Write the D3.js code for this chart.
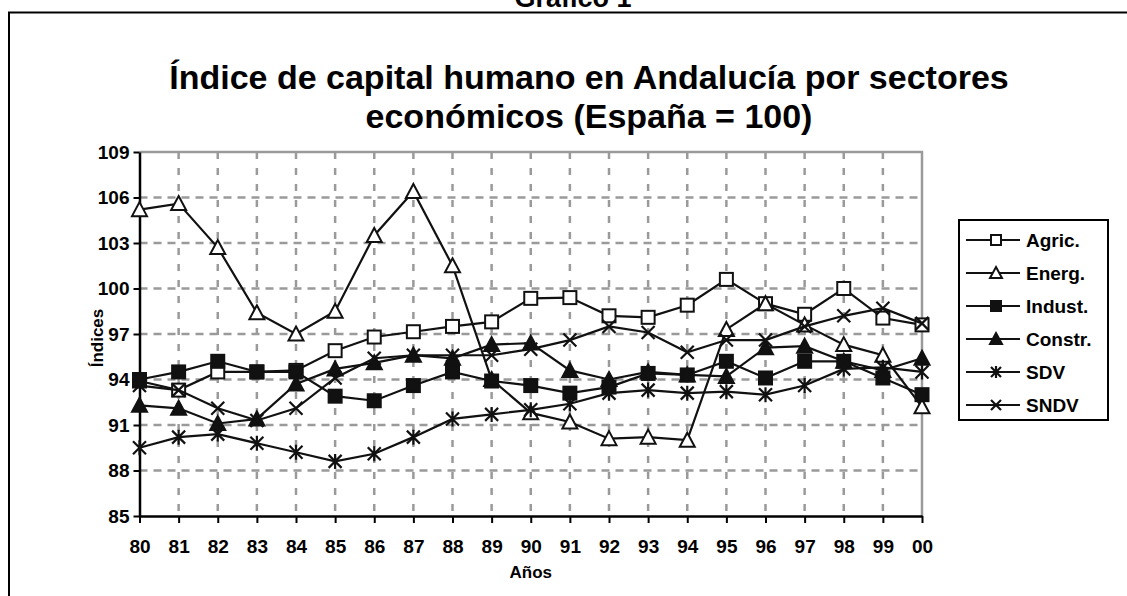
<!DOCTYPE html>
<html>
<head>
<meta charset="utf-8">
<script src="https://cdn.jsdelivr.net/npm/d3@7"></script>
<style>
  body { margin: 0; background: #fff; }
  svg { display: block; font-family: "Liberation Sans", Arial, sans-serif; }
</style>
</head>
<body>
<div id="chart"></div>
<script>
// Datos
const years = ['80','81','82','83','84','85','86','87','88','89','90','91','92','93','94','95','96','97','98','99','00'];
const agric  = [93.9, 93.3, 94.5, 94.5, 94.6, 95.9, 96.8, 97.15, 97.5, 97.8, 99.35, 99.4, 98.2, 98.1, 98.9, 100.6, 99.0, 98.3, 100.0, 98.05, 97.6];
const energ  = [105.2, 105.6, 102.7, 98.4, 97.0, 98.5, 103.5, 106.4, 101.5, 94.0, 91.8, 91.2, 90.1, 90.2, 90.0, 97.3, 99.0, 97.6, 96.3, 95.6, 92.2];
const indust = [94.0, 94.5, 95.2, 94.5, 94.5, 92.9, 92.6, 93.6, 94.5, 93.9, 93.6, 93.1, 93.5, 94.4, 94.3, 95.2, 94.1, 95.2, 95.2, 94.1, 93.0];
const constr = [92.3, 92.1, 91.1, 91.4, 93.7, 94.7, 95.1, 95.6, 95.4, 96.3, 96.4, 94.6, 94.0, 94.5, 94.3, 94.2, 96.1, 96.2, 95.2, 94.6, 95.4];
const sdv    = [89.5, 90.2, 90.4, 89.8, 89.2, 88.6, 89.1, 90.2, 91.4, 91.7, 92.0, 92.4, 93.1, 93.3, 93.1, 93.2, 93.0, 93.6, 94.7, 94.8, 94.5];
const sndv   = [93.6, 93.3, 92.1, 91.3, 92.1, 94.1, 95.4, 95.6, 95.6, 95.6, 96.0, 96.6, 97.5, 97.1, 95.8, 96.6, 96.6, 97.5, 98.2, 98.7, 97.7];
const yTicks = [85, 88, 91, 94, 97, 100, 103, 106, 109];

const seriesNames = ['Agric.', 'Energ.', 'Indust.', 'Constr.', 'SDV', 'SNDV'];
const seriesValues = [agric, energ, indust, constr, sdv, sndv];
const seriesMarkers = ['squareOpen', 'triangleOpen', 'square', 'triangle', 'star', 'cross'];

// Dimensiones
const width = 1127;
const height = 596;
const plot = { left: 139.5, right: 922, top: 152, bottom: 516 };

const svg = d3.select('#chart')
    .append('svg')
    .attr('width', width)
    .attr('height', height);

// Marco exterior
svg.append('rect')
    .attr('x', 9).attr('y', 12.5)
    .attr('width', 1200).attr('height', 700)
    .attr('fill', 'none')
    .attr('stroke', '#000')
    .attr('stroke-width', 2);

// Título superior (cortado por el borde, como en el original)
svg.append('text')
    .attr('x', 573).attr('y', 7)
    .attr('text-anchor', 'middle')
    .style('font-size', '27px').style('font-weight', 'bold')
    .text('Gráfico 1');

// Título del gráfico
const title = svg.append('text')
    .attr('text-anchor', 'middle')
    .style('font-size', '34px').style('font-weight', 'bold');
title.append('tspan').attr('x', 589).attr('y', 89).text('Índice de capital humano en Andalucía por sectores');
title.append('tspan').attr('x', 589).attr('y', 128).text('económicos (España = 100)');

// Escalas
const x = d3.scalePoint().domain(years).range([plot.left, plot.right]);
const y = d3.scaleLinear().domain([85, 109]).range([plot.bottom, plot.top]);

// Rejilla
const grid = svg.append('g');
grid.selectAll('.hgrid')
    .data(yTicks.filter(d => d > 85 && d < 109))
    .enter().append('line')
    .attr('x1', plot.left).attr('x2', plot.right)
    .attr('y1', d => y(d)).attr('y2', d => y(d))
    .attr('stroke', '#9a9a9a').attr('stroke-width', 2.5)
    .attr('stroke-dasharray', '8,6');
grid.selectAll('.vgrid')
    .data(years.slice(1, -1))
    .enter().append('line')
    .attr('x1', d => x(d)).attr('x2', d => x(d))
    .attr('y1', plot.top).attr('y2', plot.bottom)
    .attr('stroke', '#9a9a9a').attr('stroke-width', 2.5)
    .attr('stroke-dasharray', '7,9');
// borde superior y derecho
grid.append('path')
    .attr('d', `M${plot.left},${plot.top}H${plot.right}V${plot.bottom}`)
    .attr('fill', 'none')
    .attr('stroke', '#9a9a9a').attr('stroke-width', 2.5);

// Ejes
const yAxis = svg.append('g')
    .attr('transform', `translate(${plot.left},0)`)
    .call(d3.axisLeft(y).tickValues(yTicks).tickSize(6).tickSizeOuter(0).tickPadding(4));
const xAxis = svg.append('g')
    .attr('transform', `translate(0,${plot.bottom})`)
    .call(d3.axisBottom(x).tickSize(7).tickSizeOuter(0).tickPadding(17));
[yAxis, xAxis].forEach(a => {
    a.select('.domain').attr('stroke', '#000').attr('stroke-width', 2.5);
    a.selectAll('.tick line').attr('stroke', '#000').attr('stroke-width', 2);
    a.selectAll('.tick text')
        .attr('fill', '#000')
        .style('font-family', '"Liberation Sans", Arial, sans-serif')
        .style('font-size', '19px').style('font-weight', 'bold');
});

svg.append('text')
    .attr('x', (plot.left + plot.right) / 2).attr('y', 578)
    .attr('text-anchor', 'middle')
    .style('font-size', '17px').style('font-weight', 'bold')
    .text('Años');
svg.append('text')
    .attr('transform', `translate(103,${(plot.top + plot.bottom) / 2 + 4}) rotate(-90)`)
    .attr('text-anchor', 'middle')
    .style('font-size', '17px').style('font-weight', 'bold')
    .text('Índices');

// Marcadores
function drawMarker(g, type, s) {
    const h = s / 2;
    if (type === 'squareOpen' || type === 'square') {
        g.append('rect')
            .attr('x', -h).attr('y', -h).attr('width', s).attr('height', s)
            .attr('fill', type === 'square' ? '#111' : '#fff')
            .attr('stroke', '#111').attr('stroke-width', 2);
    } else if (type === 'triangleOpen' || type === 'triangle') {
        g.append('path')
            .attr('d', `M0,${-h - 1}L${h + 1},${h}L${-h - 1},${h}Z`)
            .attr('fill', type === 'triangle' ? '#111' : '#fff')
            .attr('stroke', '#111').attr('stroke-width', 2)
            .attr('stroke-linejoin', 'miter');
    } else if (type === 'star') {
        g.append('path')
            .attr('d', `M${-h},${-h}L${h},${h}M${h},${-h}L${-h},${h}M0,${-h - 1}V${h + 1}`)
            .attr('stroke', '#111').attr('stroke-width', 2.2);
    } else if (type === 'cross') {
        g.append('path')
            .attr('d', `M${-h},${-h}L${h},${h}M${h},${-h}L${-h},${h}`)
            .attr('stroke', '#111').attr('stroke-width', 2.2);
    }
}

const line = d3.line()
    .x((d, i) => x(years[i]))
    .y(d => y(d));

const series = svg.append('g');
seriesValues.forEach((vals, k) => {
    const g = series.append('g');
    g.append('path')
        .datum(vals)
        .attr('d', line)
        .attr('fill', 'none')
        .attr('stroke', '#111')
        .attr('stroke-width', 2.2);
    g.selectAll('.m')
        .data(vals)
        .enter().append('g')
        .attr('transform', (d, i) => `translate(${x(years[i])},${y(d)})`)
        .each(function () { drawMarker(d3.select(this), seriesMarkers[k], 13); });
});

// Leyenda
const legend = svg.append('g');
legend.append('rect')
    .attr('x', 959).attr('y', 220)
    .attr('width', 149).attr('height', 200)
    .attr('fill', '#fff')
    .attr('stroke', '#000').attr('stroke-width', 2);
seriesNames.forEach((name, k) => {
    const ly = 240 + k * 33;
    const item = legend.append('g').attr('transform', `translate(0,${ly})`);
    item.append('line')
        .attr('x1', 966).attr('x2', 1020)
        .attr('stroke', '#111').attr('stroke-width', 2);
    const m = item.append('g').attr('transform', 'translate(996,0)');
    drawMarker(m, seriesMarkers[k], 10);
    item.append('text')
        .attr('x', 1026).attr('y', 7)
        .style('font-size', '19px').style('font-weight', 'bold')
        .text(name);
});
</script>
</body>
</html>
